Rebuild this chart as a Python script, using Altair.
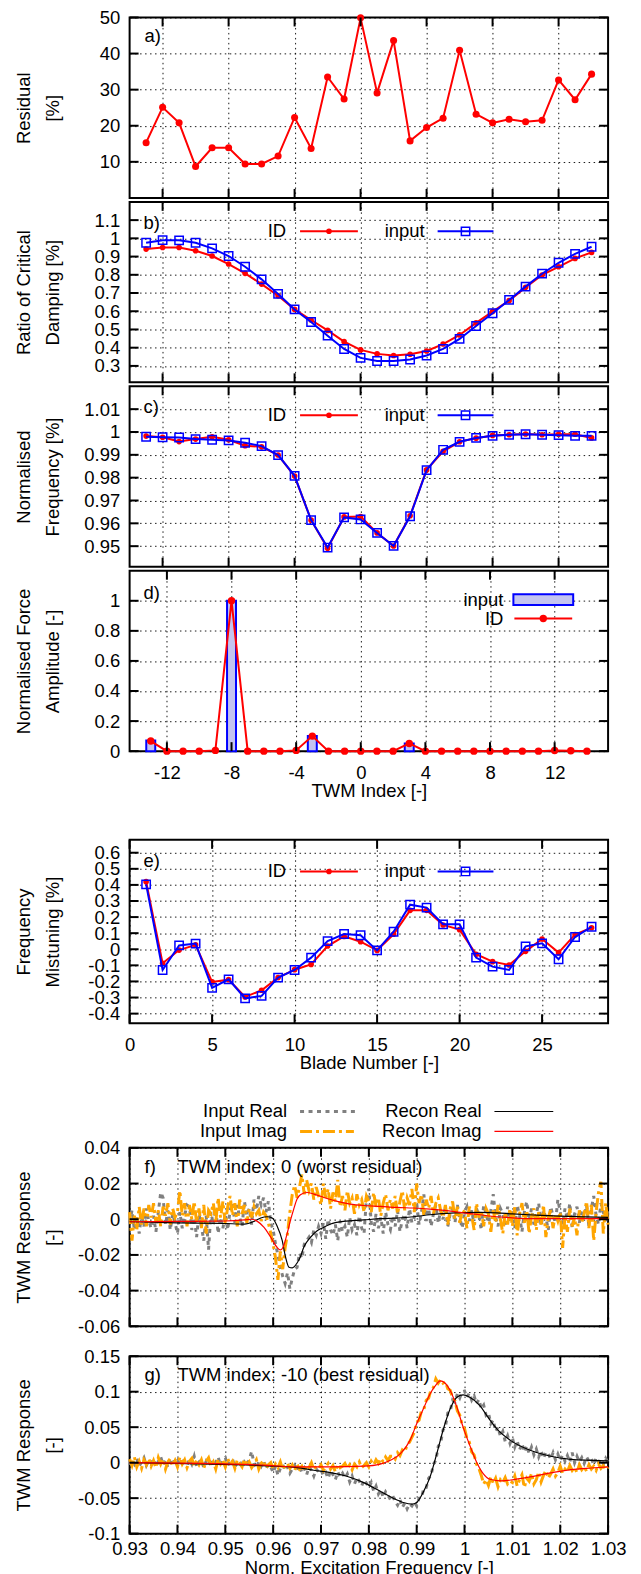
import altair as alt
import pandas as pd

FONT = "Liberation Sans"
FS = 18.5
W = 480
TICK = 9
RED = "#ff0000"
BLUE = "#0000ff"
GRAY = "#808080"
ORANGE = "#ffa500"
BARFILL = "#c4c4f0"
LABEL_EXPR = "toString(datum.value)"

# ------------------------------------------------------------------ data
TWM = list(range(-13, 15))
TWM_TICKS = [-12, -8, -4, 0, 4, 8, 12]

RESIDUAL = [15.3, 25.1, 20.8, 8.7, 13.9, 13.9, 9.4, 9.4, 11.6, 22.3, 13.7, 33.5, 27.4, 49.9,
            29.1, 43.6, 15.8, 19.5, 22.1, 40.9, 23.2, 20.8, 21.8, 21.1, 21.5, 32.7, 27.2, 34.3]
A_Y_TICKS = [10, 20, 30, 40, 50]

DAMP_ID = [0.941, 0.950, 0.950, 0.932, 0.903, 0.859, 0.808, 0.749, 0.685, 0.610, 0.552, 0.495,
           0.433, 0.388, 0.366, 0.357, 0.364, 0.382, 0.420, 0.470, 0.536, 0.598, 0.658, 0.731,
           0.799, 0.844, 0.890, 0.923]
DAMP_INPUT = [0.976, 0.990, 0.989, 0.976, 0.945, 0.903, 0.844, 0.775, 0.695, 0.610, 0.541, 0.466,
              0.393, 0.344, 0.327, 0.327, 0.335, 0.357, 0.393, 0.448, 0.519, 0.589, 0.662, 0.735,
              0.806, 0.866, 0.915, 0.954]
B_Y_TICKS = [0.3, 0.4, 0.5, 0.6, 0.7, 0.8, 0.9, 1.0, 1.1]

NFREQ_ID = [0.9982, 0.9977, 0.9958, 0.9969, 0.9979, 0.9966, 0.9940, 0.9935, 0.9899, 0.9807,
            0.9614, 0.9491, 0.9628, 0.9630, 0.9558, 0.9501, 0.9633, 0.9834, 0.9915, 0.9957,
            0.9973, 0.9985, 0.9988, 0.9991, 0.9988, 0.9990, 0.9990, 0.9974]
NFREQ_INPUT = [0.9979, 0.9977, 0.9976, 0.9969, 0.9966, 0.9963, 0.9953, 0.9938, 0.9899, 0.9808,
               0.9614, 0.9494, 0.9626, 0.9617, 0.9558, 0.9501, 0.9631, 0.9833, 0.9922, 0.9957,
               0.9974, 0.9983, 0.9988, 0.9990, 0.9988, 0.9986, 0.9983, 0.9983]
C_Y_TICKS = [0.95, 0.96, 0.97, 0.98, 0.99, 1.0, 1.01]

FORCE_INPUT = [0.07, 0, 0, 0, 0, 1.0, 0, 0, 0, 0, 0.1, 0, 0, 0,
               0, 0, 0.05, 0, 0, 0, 0, 0, 0, 0, 0, 0, 0, 0]
FORCE_ID = [0.067, 0, 0, 0, 0.005, 1.0, 0, 0, 0, 0.005, 0.1, 0, 0, 0,
            0, 0, 0.051, 0, 0, 0, 0, 0, 0, 0, 0, 0.004, 0.003, 0]
D_Y_TICKS = [0, 0.2, 0.4, 0.6, 0.8, 1.0]

BLADES = list(range(1, 29))
BLADE_TICKS = [0, 5, 10, 15, 20, 25]
MIST_ID = [0.420, -0.087, -0.005, 0.027, -0.203, -0.189, -0.296, -0.255, -0.176, -0.127, -0.094,
           0.020, 0.080, 0.047, -0.007, 0.093, 0.242, 0.242, 0.151, 0.122, -0.031, -0.077,
           -0.098, -0.013, 0.064, -0.021, 0.091, 0.134]
MIST_INPUT = [0.403, -0.129, 0.024, 0.035, -0.240, -0.187, -0.305, -0.290, -0.176, -0.129, -0.052,
              0.051, 0.095, 0.087, -0.007, 0.109, 0.277, 0.259, 0.155, 0.155, -0.052, -0.108,
              -0.129, 0.018, 0.037, -0.062, 0.076, 0.140]
E_Y_TICKS = [-0.4, -0.3, -0.2, -0.1, 0, 0.1, 0.2, 0.3, 0.4, 0.5, 0.6]

# frequency sweep of the measured response: start, step, count
SWEEP_START, SWEEP_STEP, SWEEP_N = 0.93, 0.0005, 201
SWEEP = [round(SWEEP_START + SWEEP_STEP * i, 4) for i in range(SWEEP_N)]
FREQ_TICKS = [0.93, 0.94, 0.95, 0.96, 0.97, 0.98, 0.99, 1.0, 1.01, 1.02, 1.03]

# panel f (values in units of 1e-3)
F_REAL_MILLI = [
    -2, 5, -6, 1, -8, 3, -4, 6, -1, -5,
    2, -7, 4, 15, 12, -3, 5, -6, 3, -2,
    -8, 4, -5, 2, 8, 7, -6, 1, -10, 3,
    -4, -12, 2, -17, 4, -3, 6, -8, 1, -5,
    3, -6, 5, 9, -2, 8, 1, -4, 10, 2,
    6, -3, 11, 5, 13, 8, 12, 4, 10, -2,
    -6, -14, -20, -27, -32, -36, -30, -39, -33, -28,
    -27, -19, -22, -14, -12, -10, -13, -6, -9, -4,
    -8, -2, -11, 0, -6, -9, -3, -12, -1, -7,
    -4, -10, 1, -6, -3, -9, 2, -5, -8, 12,
    17, -2, -7, 3, -5, 1, -8, 4, -3, -6,
    2, -4, 5, -7, 0, 3, -5, 6, -2, 1,
    9, -3, 4, 14, -1, 6, -4, 3, 8, -2,
    5, 0, 7, -4, 3, 6, -2, 8, 1, -5,
    4, 7, -1, 5, -3, 6, 2, -6, 8, 3,
    -2, 5, 14, 1, -4, 6, 3, -3, 7, 0,
    5, -5, 8, 2, -7, 4, 10, -1, 6, -3,
    3, 9, -4, 5, 1, -6, 7, 2, -2, 11,
    4, -3, 6, 0, 9, -5, 3, 7, -2, 5,
    1, 8, -4, 6, 13, 2, -3, 9, 4, -1, 6]
F_IMAG_MILLI = [
    4, -12, 2, -6, 7, -3, 6, -4, 8, 1,
    9, -2, 5, -4, 7, 2, 9, -3, 6, 1,
    4, 16, 2, 9, -4, 8, 0, 10, -2, 6,
    -5, 8, -8, 5, 3, 9, -2, 12, 1, 10,
    -3, 7, 13, 2, 9, -4, 11, 3, 8, -2,
    6, 1, 7, 3, 5, -1, 4, 2, -2, -8,
    -14, -22, -34, -18, -28, -16, -8, 4, 14, 19,
    12, 18, 25, 14, 22, 16, 20, 11, 18, 13,
    8, 20, 12, 17, 6, 15, 10, 22, 7, 13,
    5, 16, 9, 12, 3, 14, 8, 11, 4, 13,
    10, 4, 15, 7, 12, 2, 9, 14, 5, 11,
    6, 13, 3, 10, 16, 5, 12, 8, 17, 4,
    20, 9, 14, 2, 11, 6, 13, 3, 9, 12,
    5, 1, 8, -3, 6, 10, 0, 7, -2, 5,
    4, -5, 7, 2, -6, 9, 1, 5, -4, 6,
    3, -7, 5, -2, 8, 0, -8, 4, -3, 6,
    -4, 7, -9, 3, 9, -2, 5, -8, 2, 6,
    -6, 4, -3, 8, -10, 1, 5, -5, 3, -1,
    4, -16, 2, -7, 6, -4, 1, -9, 5, -2,
    3, 10, -5, 8, -12, 4, 15, 21, -8, 9, -3]
F_RECON_RE_FREQ = [0.93, 0.94, 0.95, 0.954, 0.956, 0.9574, 0.9588, 0.9598, 0.9608, 0.9619, 0.9626,
                   0.9633, 0.964, 0.965, 0.9657, 0.9664, 0.9678, 0.9692, 0.9706, 0.972, 0.9747,
                   0.9789, 0.9824, 0.9859, 0.9893, 0.9928, 0.9963, 0.9997, 1.0032, 1.0067, 1.01,
                   1.015, 1.02, 1.025, 1.03]
F_RECON_RE = [-0.0014, -0.0020, -0.0024, -0.0027, -0.0012, 0.0007, 0.0014, 0.0007, -0.0036,
              -0.0120, -0.0213, -0.0269, -0.0273, -0.0245, -0.0210, -0.0157, -0.0101, -0.0064,
              -0.0045, -0.0027, -0.0012, -0.0004, 0.0003, 0.0007, 0.0014, 0.0025, 0.0033, 0.0037,
              0.0038, 0.0036, 0.0030, 0.0023, 0.0017, 0.0013, 0.0010]
F_RECON_IM_FREQ = [0.93, 0.94, 0.95, 0.954, 0.9555, 0.9567, 0.9581, 0.9595, 0.9608, 0.9615, 0.9622,
                   0.9629, 0.9636, 0.9643, 0.965, 0.9657, 0.9671, 0.9685, 0.9706, 0.9734, 0.9761,
                   0.9789, 0.9824, 0.9859, 0.9893, 0.9928, 0.9963, 0.9997, 1.0032, 1.0067, 1.0095,
                   1.0134, 1.02, 1.03]
F_RECON_IM = [-0.0014, -0.0012, -0.0010, -0.0004, 0.0, -0.0012, -0.0045, -0.0101, -0.0157,
              -0.0172, -0.0148, -0.0083, -0.0008, 0.0057, 0.0113, 0.0137, 0.0150, 0.0141, 0.0122,
              0.0100, 0.0085, 0.0077, 0.0072, 0.0066, 0.0063, 0.0057, 0.0048, 0.0036, 0.0025,
              0.0014, 0.0009, 0.0003, 0.0003, 0.0003]
F_Y_TICKS = [-0.06, -0.04, -0.02, 0, 0.02, 0.04]

# panel g (values in units of 1e-3)
G_REAL_MILLI = [
    -3, 4, -2, 6, -5, 1, 7, -4, 3, -1,
    5, -6, 2, 8, -3, 4, -7, 1, 6, -2,
    3, -5, 7, 0, -4, 5, -2, 9, -6, 1,
    4, -7, 2, -3, 6, -5, 0, 8, -4, 3,
    7, -4, 2, 5, -6, 0, 3, -7, 1, -3,
    4, 16, -2, -8, 1, -5, 3, -9, -2, -6,
    -14, -5, -18, -8, -3, -11, -6, -15, -9, -4,
    -12, -3, -14, -8, -17, -6, -11, -19, -9, -13,
    -10, -18, -14, -22, -11, -17, -24, -13, -20, -15,
    -22, -16, -27, -19, -30, -21, -26, -33, -24, -29,
    -35, -28, -40, -33, -44, -38, -49, -41, -46, -52,
    -47, -55, -60, -52, -63, -57, -65, -58, -61, -55,
    -61, -50, -49, -36, -35, -22, -18, -2, 3, 23,
    28, 46, 51, 70, 72, 88, 85, 97, 91, 100,
    101, 92, 98, 88, 94, 83, 89, 76, 81, 67,
    70, 55, 60, 44, 50, 37, 44, 30, 38, 27,
    35, 22, 31, 18, 27, 15, 24, 13, 22, 11,
    19, 8, 17, 6, 15, 13, 5, 14, 4, 12,
    3, 11, 2, 10, 1, 14, 0, 9, 1, 7,
    -1, 8, 2, 6, -3, 7, 1, 5, -2, 6, 0]
G_IMAG_MILLI = [
    5, -4, 8, -6, 2, -8, 4, -3, 6, -5,
    3, -7, 7, -2, 5, -9, 1, 6, -4, 3,
    -6, 8, -2, 4, -7, 2, 6, -5, 3, -3,
    4, -8, 2, 7, -5, 1, -9, 5, -2, 3,
    -6, 6, -3, 2, -8, 4, -1, -6, 5, -4,
    1, -7, -2, 4, -9, -1, 3, -8, -3, 0,
    -9, -2, -7, 1, -10, -4, -1, -8, -3, -11,
    -2, -9, -5, -12, -3, -7, 0, -10, -5, -8,
    -3, -11, -6, -1, -9, -4, -13, -2, -7, -5,
    -1, -8, -3, -10, -2, -6, 1, -7, -4, 0,
    -6, 2, -3, 4, -1, 6, 1, 8, 3, 9,
    9, 5, 14, 10, 18, 15, 25, 29, 36, 43,
    57, 60, 73, 75, 88, 91, 103, 106, 118, 112,
    117, 112, 114, 104, 102, 92, 87, 73, 67, 53,
    48, 34, 29, 15, 11, -2, -8, -18, -30, -24,
    -32, -20, -29, -22, -34, -24, -28, -21, -30, -26,
    -28, -19, -33, -24, -17, -35, -22, -26, -15, -30,
    -24, -13, -27, -18, -11, -22, -16, -9, -19, -14,
    -5, -15, -9, -13, -4, -11, -7, -14, -3, -10,
    -6, -12, -3, -9, -5, -11, -2, -8, -4, -10, -6]
G_RECON_RE_FREQ = [0.93, 0.9449, 0.9518, 0.9588, 0.965, 0.9685, 0.972, 0.9754, 0.9789, 0.9824,
                   0.9852, 0.9872, 0.989, 0.99, 0.9914, 0.9928, 0.9942, 0.9956, 0.997, 0.9984,
                   0.9997, 1.0011, 1.0032, 1.005, 1.0067, 1.0096, 1.0137, 1.018, 1.0222, 1.0265,
                   1.03]
G_RECON_RE = [0.0, -0.0018, -0.0028, -0.0046, -0.0070, -0.0107, -0.0140, -0.0192, -0.0281,
              -0.0403, -0.0505, -0.0561, -0.0585, -0.0561, -0.0412, -0.0200, 0.0127, 0.0478,
              0.0759, 0.0922, 0.0955, 0.0922, 0.0805, 0.0630, 0.0480, 0.0314, 0.0174, 0.0090,
              0.0047, 0.0033, 0.0024]
G_RECON_IM_FREQ = [0.93, 0.9449, 0.9588, 0.965, 0.972, 0.9789, 0.9824, 0.9845, 0.9866, 0.9886,
                   0.99, 0.9914, 0.9928, 0.9942, 0.9949, 0.9959, 0.997, 0.9984, 0.9997, 1.0011,
                   1.0025, 1.0039, 1.0053, 1.0078, 1.0103, 1.0137, 1.018, 1.0222, 1.0265, 1.03]
G_RECON_IM = [0.0, -0.0010, -0.0037, -0.0060, -0.0060, -0.0050, -0.0020, 0.0033, 0.0127, 0.0314,
              0.0548, 0.0759, 0.0970, 0.1110, 0.1152, 0.1123, 0.1016, 0.0782, 0.0501, 0.0244,
              0.0010, -0.0154, -0.0234, -0.0257, -0.0238, -0.0200, -0.0145, -0.0098, -0.0075,
              -0.0060]
G_Y_TICKS = [-0.1, -0.05, 0, 0.05, 0.1, 0.15]

LEGEND_IDINPUT = ["ID", "input"]
LEGEND_FG = ["Input Real", "Input Imag", "Recon Real", "Recon Imag"]


# ------------------------------------------------------------------ helpers
def sc(dom):
    return alt.Scale(domain=dom, nice=False, zero=False)


def xaxis(ticks, show=False, title=None, **kw):
    if show:
        return alt.Axis(values=ticks, title=title, labelExpr=LABEL_EXPR, **kw)
    return alt.Axis(values=ticks, labels=False, title=None)


def yaxis(ticks, title):
    return alt.Axis(values=ticks, title=title, labelExpr=LABEL_EXPR)


class Enc:
    """Shared x / y encodings (same scale and axis in every layer of a panel)."""

    def __init__(self, xsc, ysc, xa, ya):
        self.xsc, self.ysc, self.xa, self.ya = xsc, ysc, xa, ya

    def x(self, f):
        return alt.X(f"{f}:Q", scale=self.xsc, axis=self.xa)

    def y(self, f):
        return alt.Y(f"{f}:Q", scale=self.ysc, axis=self.ya)


def one():
    return pd.DataFrame({"k": [0]})


def tick_layers(E, xticks, yticks, H):
    tx = pd.DataFrame({"v": xticks})
    ty = pd.DataFrame({"v": yticks})
    st = dict(color="black", strokeWidth=2)
    return [
        alt.Chart(tx).mark_rule(**st).encode(x=E.x("v"), y=alt.value(0), y2=alt.value(TICK)),
        alt.Chart(tx).mark_rule(**st).encode(x=E.x("v"), y=alt.value(H), y2=alt.value(H - TICK)),
        alt.Chart(ty).mark_rule(**st).encode(y=E.y("v"), x=alt.value(0), x2=alt.value(TICK)),
        alt.Chart(ty).mark_rule(**st).encode(y=E.y("v"), x=alt.value(W), x2=alt.value(W - TICK)),
    ]


def text_layer(txt, x, y, align="left"):
    return alt.Chart(pd.DataFrame({"t": [txt]})).mark_text(
        align=align, baseline="middle", font=FONT, fontSize=FS, color="black"
    ).encode(text="t:N", x=alt.value(x), y=alt.value(y))


def hline(x1, x2, y, **style):
    return alt.Chart(one()).mark_rule(**style).encode(x=alt.value(x1), x2=alt.value(x2), y=alt.value(y))


def marker(x, y, **style):
    return alt.Chart(one()).mark_point(**style).encode(x=alt.value(x), y=alt.value(y))


RED_PT = dict(shape="circle", filled=True, color=RED, size=32, opacity=1)
BLUE_PT = dict(shape="square", filled=False, color=BLUE, size=70, strokeWidth=1.5, opacity=1)


def idinput_legend(y):
    return [
        text_layer(LEGEND_IDINPUT[0], 157, y, "right"),
        hline(171, 229, y, color=RED, strokeWidth=2),
        marker(200, y, **RED_PT),
        text_layer(LEGEND_IDINPUT[1], 296, y, "right"),
        hline(309, 365, y, color=BLUE, strokeWidth=2),
        marker(337, y, **BLUE_PT),
    ]


def id_input_panel(xvals, xfield, id_vals, in_vals, xdom, ydom, xticks, yticks, H, ytitle,
                   label, leg_y, show_x=False, xtitle=None):
    df = pd.DataFrame({xfield: xvals, "id": id_vals, "inp": in_vals})
    E = Enc(sc(xdom), sc(ydom), xaxis(xticks, show_x, xtitle), yaxis(yticks, ytitle))
    base = alt.Chart(df)
    l_id = base.mark_line(color=RED, strokeWidth=2).encode(x=E.x(xfield), y=E.y("id"))
    p_id = base.mark_point(**RED_PT).encode(x=E.x(xfield), y=E.y("id"))
    l_in = base.mark_line(color=BLUE, strokeWidth=2).encode(x=E.x(xfield), y=E.y("inp"))
    p_in = base.mark_point(**BLUE_PT).encode(x=E.x(xfield), y=E.y("inp"))
    layers = [l_id, p_id, l_in, p_in] + idinput_legend(leg_y) + [text_layer(label, 14, 21)]
    layers += tick_layers(E, xticks, yticks, H)
    return alt.layer(*layers).properties(width=W, height=H)


# ------------------------------------------------------------------ panel a
HA = 181
EA = Enc(sc([-14, 15]), sc([0, 50]), xaxis(TWM_TICKS), yaxis(A_Y_TICKS, ["Residual", "[%]"]))
df_a = pd.DataFrame({"twm": TWM, "res": RESIDUAL})
a_line = alt.Chart(df_a).mark_line(color=RED, strokeWidth=2).encode(x=EA.x("twm"), y=EA.y("res"))
a_pts = alt.Chart(df_a).mark_point(**{**RED_PT, "size": 50}).encode(x=EA.x("twm"), y=EA.y("res"))
panel_a = alt.layer(a_line, a_pts, text_layer("a)", 15, 19),
                    *tick_layers(EA, TWM_TICKS, A_Y_TICKS, HA)).properties(width=W, height=HA)

# ------------------------------------------------------------------ panels b, c
panel_b = id_input_panel(TWM, "twm", DAMP_ID, DAMP_INPUT, [-14, 15], [0.21, 1.2], TWM_TICKS,
                         B_Y_TICKS, 181, ["Ratio of Critical", "Damping [%]"], "b)", 29.5)
panel_c = id_input_panel(TWM, "twm", NFREQ_ID, NFREQ_INPUT, [-14, 15], [0.941, 1.02], TWM_TICKS,
                         C_Y_TICKS, 181, ["Normalised", "Frequency [%]"], "c)", 29)

# ------------------------------------------------------------------ panel d
HD = 181
ED = Enc(sc([-14, 15]), sc([0, 1.2]), xaxis(TWM_TICKS, True, "TWM Index [-]"),
         yaxis(D_Y_TICKS, ["Normalised Force", "Amplitude [-]"]))
df_d = pd.DataFrame({"twm": TWM, "inp": FORCE_INPUT, "id": FORCE_ID})
d_bar = alt.Chart(df_d).transform_filter("datum.inp > 0").mark_bar(
    size=9, fill=BARFILL, stroke=BLUE, strokeWidth=2, opacity=1).encode(x=ED.x("twm"), y=ED.y("inp"))
d_line = alt.Chart(df_d).mark_line(color=RED, strokeWidth=2).encode(x=ED.x("twm"), y=ED.y("id"))
d_pts = alt.Chart(df_d).mark_point(**{**RED_PT, "size": 55}).encode(x=ED.x("twm"), y=ED.y("id"))
d_leg = [
    text_layer(LEGEND_IDINPUT[1], 375, 29, "right"),
    alt.Chart(one()).mark_rect(fill=BARFILL, stroke=BLUE, strokeWidth=2).encode(
        x=alt.value(385), x2=alt.value(445), y=alt.value(23.5), y2=alt.value(34.5)),
    text_layer(LEGEND_IDINPUT[0], 375, 48, "right"),
    hline(386, 444, 48, color=RED, strokeWidth=2),
    marker(415, 48, **{**RED_PT, "size": 55}),
]
panel_d = alt.layer(d_bar, d_line, d_pts, *d_leg, text_layer("d)", 14, 22),
                    *tick_layers(ED, TWM_TICKS, D_Y_TICKS, HD)).properties(width=W, height=HD)

# ------------------------------------------------------------------ panel e
panel_e = id_input_panel(BLADES, "blade", MIST_ID, MIST_INPUT, [0, 29], [-0.46, 0.68], BLADE_TICKS,
                         E_Y_TICKS, 184, ["Frequency", "Mistuning [%]"], "e)", 31.7,
                         show_x=True, xtitle="Blade Number [-]")


# ------------------------------------------------------------------ panels f, g
def response_panel(real_m, imag_m, re_f, re_v, im_f, im_v, ydom, yticks, H, label, desc,
                   legend=False, show_x=False, **xkw):
    xa = xaxis(FREQ_TICKS, show_x, "Norm. Excitation Frequency [-]" if show_x else None, **xkw)
    E = Enc(sc([0.93, 1.03]), sc(ydom), xa, yaxis(yticks, ["TWM Response", "[-]"]))
    dfn = pd.DataFrame({"f": SWEEP, "re": [v * 1e-3 for v in real_m], "im": [v * 1e-3 for v in imag_m]})
    dre = pd.DataFrame({"f": re_f, "v": re_v})
    dim = pd.DataFrame({"f": im_f, "v": im_v})
    l1 = alt.Chart(dfn).mark_line(color=GRAY, strokeWidth=3, strokeDash=[4, 4.5]).encode(
        x=E.x("f"), y=E.y("re"))
    l2 = alt.Chart(dfn).mark_line(color=ORANGE, strokeWidth=3, strokeDash=[12, 4, 3, 4]).encode(
        x=E.x("f"), y=E.y("im"))
    l3 = alt.Chart(dre).mark_line(color="black", strokeWidth=1.2, interpolate="monotone").encode(
        x=E.x("f"), y=E.y("v"))
    l4 = alt.Chart(dim).mark_line(color=RED, strokeWidth=1.2, interpolate="monotone").encode(
        x=E.x("f"), y=E.y("v"))
    layers = [l1, l2, l3, l4, text_layer(label, 15, 19), text_layer(desc, 48, 19)]
    if legend:
        layers += [
            text_layer(LEGEND_FG[0], 158, -37, "right"),
            hline(171, 228, -36.5, color=GRAY, strokeWidth=3, strokeDash=[4, 4.5]),
            text_layer(LEGEND_FG[1], 158, -17, "right"),
            hline(171, 225, -16.5, color=ORANGE, strokeWidth=3, strokeDash=[12, 4, 3, 4]),
            text_layer(LEGEND_FG[2], 353, -37, "right"),
            hline(366, 425, -36.5, color="black", strokeWidth=1.2),
            text_layer(LEGEND_FG[3], 353, -17, "right"),
            hline(366, 425, -16.5, color=RED, strokeWidth=1.2),
        ]
    layers += tick_layers(E, FREQ_TICKS, yticks, H)
    return alt.layer(*layers).properties(width=W, height=H)


panel_f = response_panel(F_REAL_MILLI, F_IMAG_MILLI, F_RECON_RE_FREQ, F_RECON_RE, F_RECON_IM_FREQ,
                         F_RECON_IM, [-0.06, 0.04], F_Y_TICKS, 179, "f)",
                         "TWM index: 0 (worst residual)", legend=True)
panel_g = response_panel(G_REAL_MILLI, G_IMAG_MILLI, G_RECON_RE_FREQ, G_RECON_RE, G_RECON_IM_FREQ,
                         G_RECON_IM, [-0.1, 0.15], G_Y_TICKS, 178, "g)",
                         "TWM index: -10 (best residual)", show_x=True, labelPadding=6,
                         titlePadding=0)

# ------------------------------------------------------------------ layout
ind = dict(x="independent", y="independent")
top = alt.vconcat(panel_a, panel_b, panel_c, panel_d, spacing=0).resolve_scale(**ind)
mid = alt.vconcat(top, panel_e, spacing=37).resolve_scale(**ind)
bot = alt.vconcat(panel_f, panel_g, spacing=9).resolve_scale(**ind)
chart = alt.vconcat(mid, bot, spacing=28).resolve_scale(**ind).properties(
    padding={"left": 5, "top": -3, "right": 5, "bottom": 0})

chart = chart.configure_view(stroke="black", strokeWidth=2).configure_axis(
    labelFont=FONT, titleFont=FONT, labelFontSize=FS, titleFontSize=FS, titleFontWeight="normal",
    labelColor="black", titleColor="black", gridColor="black", gridDash=[1.5, 3.5],
    gridOpacity=0.9, gridWidth=1, ticks=False, tickSize=0, domain=False, labelOverlap=False,
    labelFlush=False,
).configure_axisY(
    labelPadding=10, titleX=-106, titleAlign="center", titleBaseline="middle", titleLineHeight=29,
).configure_axisX(labelPadding=12, titlePadding=0)

chart.save("out.html", embed_options={"renderer": "svg", "actions": False})
